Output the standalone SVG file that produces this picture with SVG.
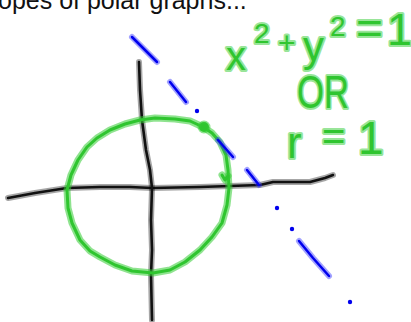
<svg xmlns="http://www.w3.org/2000/svg" width="411" height="322" viewBox="0 0 411 322">
<style>
.halo{fill:none;stroke-linecap:round;stroke-linejoin:round}
.core{fill:none;stroke-linecap:round;stroke-linejoin:round}
.k.halo{stroke:#000;stroke-opacity:0.35;stroke-width:6}
.k.core{stroke:#111;stroke-width:2.6}
.g.halo{stroke:#33cc33;stroke-opacity:0.55;stroke-width:7}
.g.core{stroke:#2fc52f;stroke-width:3}
.b.halo{stroke:#3333ff;stroke-opacity:0.45;stroke-width:6}
.b.core{stroke:#0000ee;stroke-width:2.5}
.dot{fill:#0000ee}
.hw{font-family:"Liberation Sans",Arial,sans-serif;fill:#2fc52f;stroke:#33cc33;stroke-opacity:0.5;stroke-width:4;stroke-linejoin:round;paint-order:stroke}
.title{font-family:"Liberation Sans",Arial,sans-serif;font-size:25px;fill:#111}
</style>
<rect width="411" height="322" fill="#fff"/>
<text class="title" x="-2" y="9">opes of polar graphs...</text>

<g id="axes">
<path class="k halo" d="M8,198 L35,193 L67,188 L100,187 L130,187 L152,188 L200,187 L230,186 L260,185 L273,182 L310,182 L325,178 L333,175"/>
<path class="k core" d="M8,198 L35,193 L67,188 L100,187 L130,187 L152,188 L200,187 L230,186 L260,185 L273,182 L310,182 L325,178 L333,175"/>
<path class="k halo" d="M139,62 L140,90 L142,120 L146,150 L150,170 L152,188 L151,220 L152,250 L151,275 L152,320"/>
<path class="k core" d="M139,62 L140,90 L142,120 L146,150 L150,170 L152,188 L151,220 L152,250 L151,275 L152,320"/>
</g>

<g id="circle">
<path class="g halo" d="M203,127 L190,121 L175,119 L155,118 L140,120 L125,124 L110,130 L97,138 L87,147 L78,160 L71,175 L67,190 L68,208 L72,223 L80,240 L90,251 L100,257 L115,265 L132,271 L153,273 L170,270 L185,262 L200,250 L212,237 L222,223 L227,205 L229,188 L228,170 L226,155 L220,142 L212,133 Z"/>
<path class="g core" d="M203,127 L190,121 L175,119 L155,118 L140,120 L125,124 L110,130 L97,138 L87,147 L78,160 L71,175 L67,190 L68,208 L72,223 L80,240 L90,251 L100,257 L115,265 L132,271 L153,273 L170,270 L185,262 L200,250 L212,237 L222,223 L227,205 L229,188 L228,170 L226,155 L220,142 L212,133 Z"/>
<path class="g halo" d="M222,175 L225,180 L228,176"/>
<path class="g core" d="M222,175 L225,180 L228,176"/>
<circle cx="204" cy="127" r="5" fill="#2fc52f" stroke="#33cc33" stroke-opacity="0.55" stroke-width="3"/>
</g>

<g id="tangent-line">
<path class="b halo" d="M132,37 L157,62 M170,82 L186,102 M218,140 L233,157 M247,170 L259,185 M299,241 L313,258 L329,276"/>
<path class="b core" d="M132,37 L157,62 M170,82 L186,102 M218,140 L233,157 M247,170 L259,185 M299,241 L313,258 L329,276"/>
<circle class="dot" cx="197" cy="111" r="2.2"/>
<circle class="dot" cx="277" cy="208" r="2.2"/>
<circle class="dot" cx="292" cy="229" r="2.2"/>
<circle class="dot" cx="350" cy="302" r="2.2"/>
</g>

<g id="equations">
<text class="hw"><tspan x="226" y="70" font-size="40">x</tspan><tspan x="254" y="43" font-size="28">2</tspan><tspan x="278" y="53" font-size="30">+</tspan><tspan x="303" y="61" font-size="42">y</tspan><tspan x="330" y="36" font-size="28">2</tspan><tspan x="356" y="44" font-size="46">=</tspan><tspan x="387" y="45" font-size="45">1</tspan></text>
<text class="hw" x="297" y="108" font-size="46" textLength="52" lengthAdjust="spacingAndGlyphs">OR</text>
<text class="hw"><tspan x="287" y="158" font-size="44">r</tspan><tspan x="322" y="150" font-size="40">=</tspan><tspan x="358" y="154" font-size="46">1</tspan></text>
</g>
</svg>
